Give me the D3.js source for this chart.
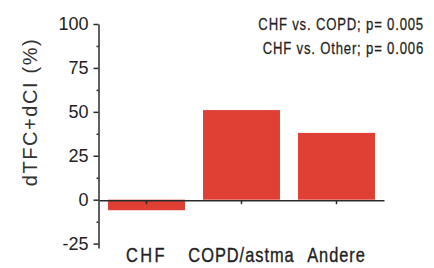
<!DOCTYPE html>
<html>
<head>
<meta charset="utf-8">
<script src="https://cdn.jsdelivr.net/npm/d3@7"></script>
<style>
  body { margin: 0; background: #fff; }
  svg { display: block; }
</style>
</head>
<body>
<div id="chart"></div>
<script>
// values
const categories = ["CHF", "COPD/astma", "Andere"];
const changes = [-6, 51, 38];
const majorTicks = [-25, 0, 25, 50, 75, 100];
const minorTicks = [-12.5, 12.5, 37.5, 62.5, 87.5];
const notes = ["CHF vs. COPD; p= 0.005", "CHF vs. Other; p= 0.006"];

let width = 434;
let height = 268;
let squeeze = 0.82; // no narrow font installed, so squash the text horizontally

let svg = d3.select("#chart")
  .append("svg")
  .attr("width", width)
  .attr("height", height);

let x = d3.scaleBand()
  .domain(categories)
  .range([99, 384])
  .paddingInner(0.19)
  .paddingOuter(0.095);

let y = d3.scaleLinear()
  .domain([-27.5, 100])
  .range([248, 24]);

// bars
svg.selectAll(".bar")
  .data(categories)
  .enter()
  .append("rect")
    .attr("class", "bar")
    .attr("x", d => x(d))
    .attr("width", x.bandwidth())
    .attr("y", (d, i) => y(Math.max(0, changes[i])))
    .attr("height", (d, i) => Math.abs(y(changes[i]) - y(0)))
    .attr("fill", "#e04034");

// y axis, major + minor ticks
let yAxis = svg.append("g")
  .attr("transform", "translate(98.5,0)")
  .call(d3.axisLeft(y).tickValues(majorTicks).tickSize(5).tickSizeOuter(0).tickPadding(5)
    .tickFormat(d => String(d)));
yAxis.selectAll("text")
  .style("font-family", "'Liberation Sans', sans-serif")
  .style("font-size", "18px")
  .attr("fill", "#222");

svg.append("g")
  .attr("transform", "translate(98.5,0)")
  .call(d3.axisLeft(y).tickValues(minorTicks).tickSize(2).tickFormat(""))
  .select(".domain").remove();

// zero line with ticks at category centres
svg.append("g")
  .attr("transform", "translate(0," + (y(0) + 0.5) + ")")
  .call(d3.axisBottom(x).tickSize(4).tickSizeOuter(0).tickFormat(""));

svg.selectAll(".domain, .tick line")
  .attr("stroke", "#2a2a2a")
  .attr("stroke-width", 1.5);

// category labels
svg.selectAll(".cat")
  .data(categories)
  .enter()
  .append("g")
    .attr("class", "cat")
    .attr("transform", d => "translate(" + (x(d) + x.bandwidth() / 2) + ",262) scale(" + squeeze + ",1)")
  .append("text")
    .attr("text-anchor", "middle")
    .style("font-family", "'Liberation Sans', sans-serif")
    .style("font-size", "20px")
    .style("letter-spacing", (d, i) => i === 0 ? "3px" : "1.2px")
    .attr("fill", "#222")
    .attr("stroke", "#222")
    .attr("stroke-width", 0.35)
    .text(d => d);

// y label
svg.append("text")
  .attr("transform", "translate(37,112) rotate(-90)")
  .attr("text-anchor", "middle")
  .style("font-family", "'Liberation Sans', sans-serif")
  .style("font-size", "20px")
  .style("letter-spacing", "1.6px")
  .attr("fill", "#333")
  .text("dTFC+dCI (%)");

// p-value notes
svg.selectAll(".note")
  .data(notes)
  .enter()
  .append("g")
    .attr("class", "note")
    .attr("transform", (d, i) => "translate(424," + (30 + i * 24) + ") scale(" + squeeze + ",1)")
  .append("text")
    .attr("text-anchor", "end")
    .style("font-family", "'Liberation Sans', sans-serif")
    .style("font-size", "16px")
    .style("letter-spacing", "1px")
    .attr("fill", "#222")
    .attr("stroke", "#222")
    .attr("stroke-width", 0.25)
    .text(d => d);
</script>
</body>
</html>
